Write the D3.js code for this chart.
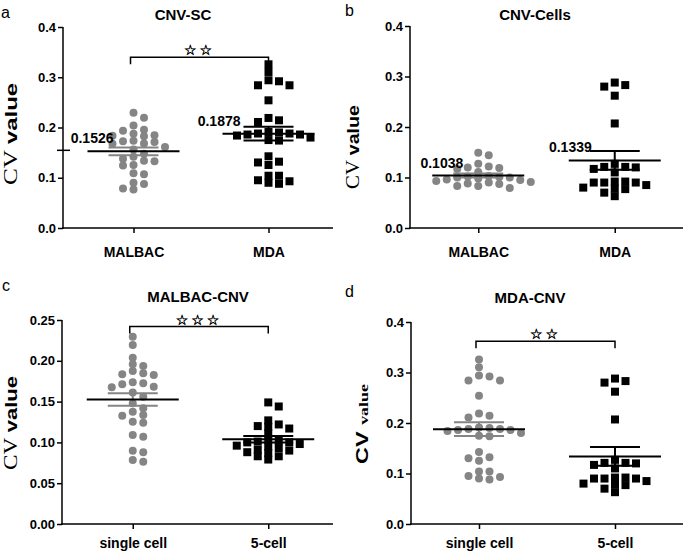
<!DOCTYPE html>
<html><head><meta charset="utf-8">
<script src="https://cdn.jsdelivr.net/npm/d3@7"></script>
<style>body{margin:0;background:#fff}svg{display:block}</style>
</head><body>
<svg id="c" width="685" height="554"></svg>
<script>
// ---------- data ----------
const malbacSC = [0.2296,0.2194,0.2038,0.1957,0.1936,0.1875,0.1834,0.1826,0.1846,0.1724,
  0.1683,0.1675,0.1712,0.1736,0.1610,0.1560,0.1479,0.1418,0.1377,0.1328,
  0.1336,0.1242,0.1254,0.1091,0.1070,0.0878,0.0899,0.0764,0.0784];
const mdaSC = [0.3258,0.3105,0.2940,0.2920,0.2840,0.2840,0.2541,0.2190,0.2143,0.2110,
  0.1900,0.1880,0.1910,0.1860,0.1840,0.1880,0.1800,0.1750,0.1740,0.1860,
  0.1427,0.1304,0.1254,0.1320,0.1040,0.0930,0.0880,0.0900,0.0950,0.1040];
const malbacCells = [0.149,0.144,0.127,0.120,0.117,0.119,0.122,0.111,0.102,0.100,
  0.103,0.101,0.100,0.098,0.096,0.095,0.093,0.091,0.090,0.088,0.087,0.083,0.083,0.079];
const mdaCells = [0.283,0.288,0.280,0.262,0.207,0.127,0.121,0.117,0.120,0.121,0.110,
  0.090,0.085,0.090,0.092,0.092,0.080,0.078,0.077,0.070,0.063,0.090];
const groupMeans = {malbacSC:0.1526, mdaSC:0.1878, malbacCells:0.1038, mdaCells:0.1339};
const groupSems  = {malbacSC:0.0076, mdaSC:0.0135, malbacCells:0.0040, mdaCells:0.0185};
const panelLetters = ["a","b","c","d"];
const panelTitles = ["CNV-SC","CNV-Cells","MALBAC-CNV","MDA-CNV"];
const catsAB = ["MALBAC","MDA"];
const catsCD = ["single cell","5-cell"];
const ticks04 = [0,0.1,0.2,0.3,0.4];
const ticks025 = [0,0.05,0.10,0.15,0.20,0.25];
const sigLabels = ["**", null, "***", "**"];
const sigLevels = [0.34, null, 0.242, 0.362];
const showMeanLabels = [true,true,false,false];

// ---------- layout ----------
const panels = [
  {x0:63, xEnd:333, yTop:27, yBot:228, range:[66,336], max:0.4, ticks:ticks04, fmt:d3.format(".1f"),
   cats:catsAB, groups:["malbacSC","mdaSC"], titleX:183, titleY:20, letterX:1, letterY:18, ytX:17, ytY:134, ytLen:102, ytStyle:0,
   axisMark:true, xPad:14, lblOff:[20,28]},
  {x0:410, xEnd:683, yTop:26, yBot:228, range:[410,683], max:0.4, ticks:ticks04, fmt:d3.format(".1f"),
   cats:catsAB, groups:["malbacCells","mdaCells"], titleX:535, titleY:20, letterX:345, letterY:16, ytX:359, ytY:147, ytLen:84, ytStyle:0,
   xPad:14, lblOff:[15,23]},
  {x0:62, xEnd:333, yTop:320, yBot:524, range:[65,336], max:0.25, ticks:ticks025, fmt:d3.format(".2f"),
   cats:catsCD, groups:["malbacSC","malbacCells"], titleX:198, titleY:302, letterX:2, letterY:291, ytX:17, ytY:423, ytLen:94, ytStyle:0,
   xPad:9},
  {x0:411, xEnd:683, yTop:322, yBot:524, range:[411,683], max:0.4, ticks:ticks04, fmt:d3.format(".1f"),
   cats:catsCD, groups:["mdaSC","mdaCells"], titleX:530, titleY:303, letterX:345, letterY:297, ytX:368, ytY:424, ytLen:80, ytStyle:1,
   xPad:9}
];
const dataOf = {malbacSC, mdaSC, malbacCells, mdaCells};
const GRAY = "#858585";
const svg = d3.select("#c");
const SANS = "Arial, 'Liberation Sans', sans-serif";
const SERIF = "'Liberation Serif', 'Times New Roman', serif";

function swarm(values, y, cx, step, minDy){
  const pts = values.map(v=>({v, y:y(v)})).sort((a,b)=>a.y-b.y);
  const placed=[];
  pts.forEach(p=>{
    for(let k=0;k<40;k++){
      const off = k===0?0:(k%2? Math.ceil(k/2) : -Math.ceil(k/2));
      if(!placed.some(q=>q.col===off && Math.abs(q.y-p.y)<minDy)){p.col=off;break;}
    }
    placed.push(p);
  });
  placed.forEach(p=>p.x=cx+p.col*step);
  return placed;
}

panels.forEach((P,i)=>{
  const g = svg.append("g");
  const y = d3.scaleLinear().domain([0,P.max]).range([P.yBot,P.yTop]);
  const x = d3.scalePoint().domain(P.cats).range(P.range).padding(0.5);

  g.append("text").attr("x",P.letterX).attr("y",P.letterY).attr("font-family",SANS)
    .attr("font-size",16).text(panelLetters[i]);
  g.append("text").attr("x",P.titleX).attr("y",P.titleY).attr("text-anchor","middle")
    .attr("font-family",SANS).attr("font-weight","bold").attr("font-size",15).text(panelTitles[i]);

  const ya = g.append("g").attr("transform",`translate(${P.x0},0)`)
    .call(d3.axisLeft(y).tickValues(P.ticks).tickFormat(P.fmt).tickSize(5).tickSizeOuter(0).tickPadding(2));
  ya.select(".domain").remove();
  ya.selectAll("line").attr("stroke","#000").attr("stroke-width",1.5);
  ya.selectAll("text").attr("font-family",SANS).attr("font-weight","bold").attr("font-size",13).attr("fill","#000");
  g.append("line").attr("x1",P.x0).attr("x2",P.x0).attr("y1",P.yTop).attr("y2",P.yBot+0.75)
    .attr("stroke","#000").attr("stroke-width",1.5);
  const xa = g.append("g").attr("transform",`translate(0,${P.yBot})`)
    .call(d3.axisBottom(x).tickSize(5).tickSizeOuter(0).tickPadding(P.xPad));
  xa.select(".domain").remove();
  xa.selectAll("line").attr("stroke","#000").attr("stroke-width",1.5);
  xa.selectAll("text").attr("font-family",SANS).attr("font-weight","bold").attr("font-size",14).attr("fill","#000");
  g.append("line").attr("x1",P.x0-0.75).attr("x2",P.xEnd).attr("y1",P.yBot).attr("y2",P.yBot)
    .attr("stroke","#000").attr("stroke-width",1.5);

  const yt = g.append("text").attr("transform",`translate(${P.ytX},${P.ytY}) rotate(-90)`)
    .attr("text-anchor","middle").attr("fill","#000")
    .attr("textLength",P.ytLen).attr("lengthAdjust","spacingAndGlyphs");
  if(P.ytStyle===0){
    yt.append("tspan").attr("font-family",SERIF).attr("font-size",18).text("CV ");
    yt.append("tspan").attr("font-family",SANS).attr("font-weight","bold").attr("font-size",17).text("value");
  } else {
    yt.append("tspan").attr("font-family",SANS).attr("font-weight","bold").attr("font-size",17).text("CV ");
    yt.append("tspan").attr("font-family",SERIF).attr("font-weight","bold").attr("font-size",13).text("value");
  }

  P.groups.forEach((key,j)=>{
    const cx = x(P.cats[j]);
    const pts = swarm(dataOf[key], y, cx, 10.5, 6.5);
    const mean = groupMeans[key], sem = groupSems[key];
    const isCircle = j===0;
    const semColor = isCircle?GRAY:"#000";
    if(isCircle){
      g.append("g").selectAll("circle").data(pts).join("circle")
        .attr("cx",d=>d.x).attr("cy",d=>d.y).attr("r",4).attr("fill",GRAY);
    } else {
      g.append("g").selectAll("rect").data(pts).join("rect")
        .attr("x",d=>d.x-4).attr("y",d=>d.y-4).attr("width",8).attr("height",8).attr("fill","#000");
    }
    g.append("line").attr("x1",cx).attr("x2",cx).attr("y1",y(mean+sem)).attr("y2",y(mean-sem))
      .attr("stroke",semColor).attr("stroke-width",2);
    [mean+sem,mean-sem].forEach(v=>g.append("line").attr("x1",cx-25).attr("x2",cx+25)
      .attr("y1",y(v)).attr("y2",y(v)).attr("stroke",semColor).attr("stroke-width",2));
    g.append("line").attr("x1",cx-46).attr("x2",cx+46).attr("y1",y(mean)).attr("y2",y(mean))
      .attr("stroke","#000").attr("stroke-width",2);
    if(showMeanLabels[i]){
      g.append("text").attr("x",cx-P.lblOff[j]).attr("y",y(mean)-8).attr("text-anchor","end")
        .attr("font-family",SANS).attr("font-weight","bold").attr("font-size",14).text(d3.format(".4f")(mean));
    }
  });
  if(P.axisMark){
    const m = groupMeans[P.groups[0]];
    g.append("line").attr("x1",P.x0-6).attr("x2",P.x0+7).attr("y1",y(m)-1).attr("y2",y(m)-1)
      .attr("stroke","#000").attr("stroke-width",1.5);
  }
  if(sigLabels[i]){
    const by = y(sigLevels[i]);
    const xa1 = x(P.cats[0])-3, xb1 = x(P.cats[1]);
    g.append("path").attr("d",`M${xa1},${by+7}V${by}H${xb1}V${by+7}`)
      .attr("fill","none").attr("stroke","#000").attr("stroke-width",1.5);
    g.append("text").attr("x",(xa1+xb1)/2).attr("y",by-2).attr("text-anchor","middle")
      .attr("font-family","'DejaVu Sans'").attr("font-size",14).attr("letter-spacing",3)
      .attr("fill","#000").attr("stroke","#000").attr("stroke-width",0.4)
      .text(sigLabels[i].replace(/\*/g,"\u2606"));
  }
});
</script>
</body></html>
